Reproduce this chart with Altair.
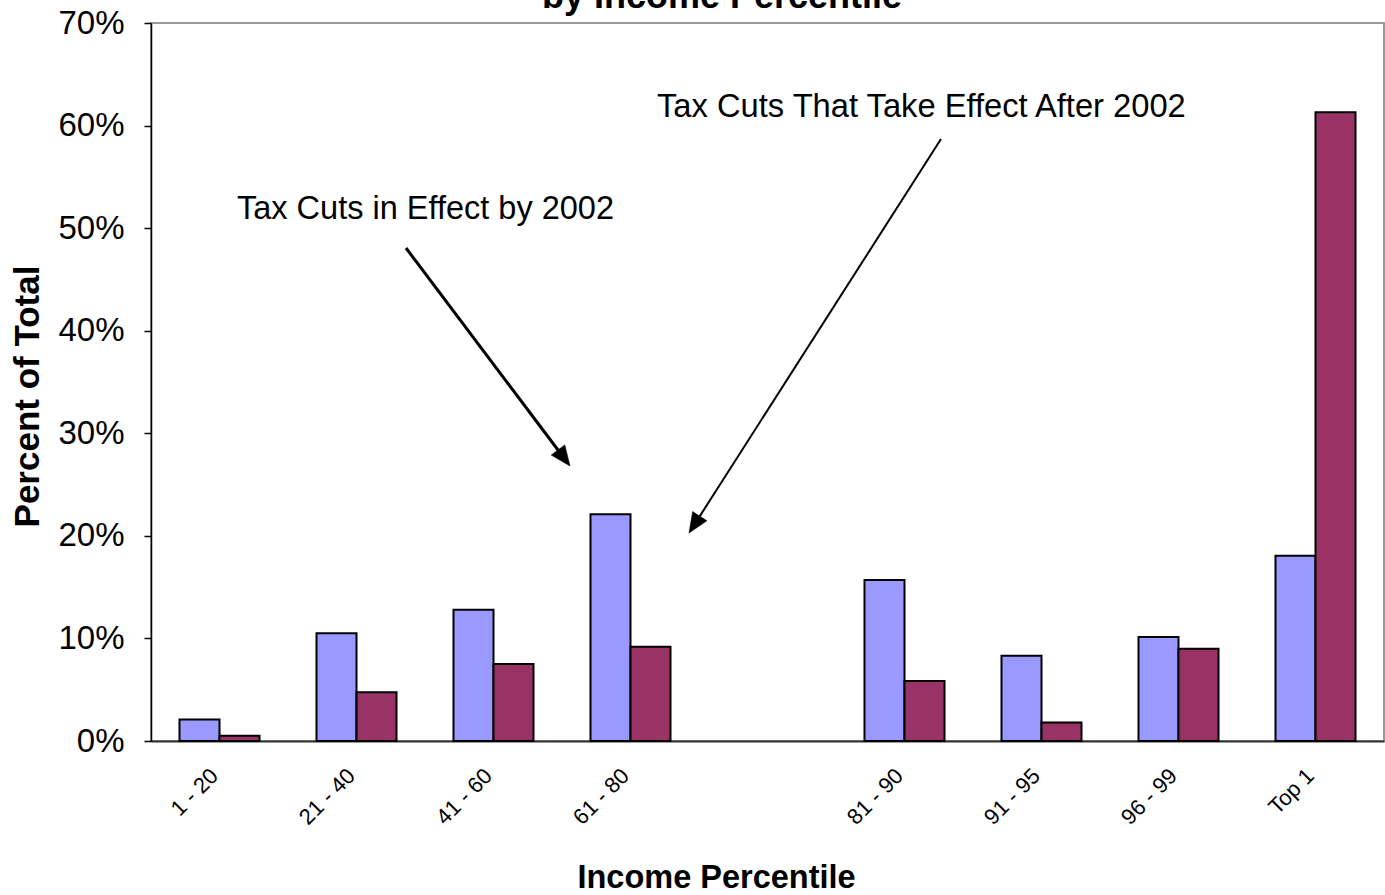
import altair as alt
import pandas as pd

# ---- data ----
categories = ["1 - 20", "21 - 40", "41 - 60", "61 - 80", "81 - 90", "91 - 95", "96 - 99", "Top 1"]
x_domain = ["1 - 20", "21 - 40", "41 - 60", "61 - 80", " ", "81 - 90", "91 - 95", "96 - 99", "Top 1"]
series_names = ["Tax Cuts in Effect by 2002", "Tax Cuts That Take Effect After 2002"]
in_effect_2002 = [2.1, 10.5, 12.8, 22.1, 15.7, 8.3, 10.15, 18.05]   # percent
after_2002 = [0.5, 4.75, 7.5, 9.2, 5.85, 1.8, 9.0, 61.3]            # percent
y_ticks = [0, 0.1, 0.2, 0.3, 0.4, 0.5, 0.6, 0.7]
colors = ["#9999FF", "#993366"]

FONT = "Liberation Sans"

rows = []
for c, a, b in zip(categories, in_effect_2002, after_2002):
    rows.append({"cat": c, "series": series_names[0], "value": a / 100})
    rows.append({"cat": c, "series": series_names[1], "value": b / 100})
df = pd.DataFrame(rows)

W, H = 1233, 718

bars = alt.Chart(df).mark_bar(stroke="black", strokeWidth=2).encode(
    x=alt.X(
        "cat:N",
        sort=x_domain,
        scale=alt.Scale(domain=x_domain, paddingInner=0.416, paddingOuter=0.208),
        axis=alt.Axis(
            title="Income Percentile",
            labelAngle=-45, labelAlign="right", labelBaseline="middle",
            labelFontSize=22, labelPadding=31, labelOffset=-5, labelColor="black", labelFont=FONT,
            ticks=False, tickSize=0,
            domainColor="#333333", domainWidth=2,
            titleFontSize=32.5, titleFontWeight="bold", titleFont=FONT, titleColor="black",
            titleX=565, titleY=146, titleBaseline="alphabetic", titleAlign="center",
        ),
    ),
    xOffset=alt.XOffset("series:N", sort=series_names,
                        scale=alt.Scale(domain=series_names, paddingInner=0, paddingOuter=0)),
    y=alt.Y(
        "value:Q",
        scale=alt.Scale(domain=[0, 0.7], nice=False),
        axis=alt.Axis(
            title="Percent of Total", values=y_ticks, format=".0%", grid=False,
            tickSize=7, tickColor="black", tickWidth=1.5,
            domainColor="black", domainWidth=1.5,
            labelFontSize=33, labelPadding=20, labelColor="black", labelFont=FONT,
            titleFontSize=35, titleFontWeight="bold", titleFont=FONT, titleColor="black",
            titleAngle=-90, titleX=-113, titleY=373, titleAlign="center", titleBaseline="alphabetic",
        ),
    ),
    color=alt.Color("series:N", scale=alt.Scale(domain=series_names, range=colors), legend=None),
)

one = pd.DataFrame({"k": [0]})

def arrow(x1, y1, xc, yc, width, angle):
    line = alt.Chart(one).mark_rule(color="black", strokeWidth=width).encode(
        x=alt.value(x1), y=alt.value(y1), x2=alt.value(xc), y2=alt.value(yc)
    )
    head = alt.Chart(one).mark_point(
        shape="M0,-1L-0.85,1L0.85,1Z", filled=True, fill="black", stroke="black",
        strokeWidth=0.5, size=400, angle=angle, opacity=1,
    ).encode(x=alt.value(xc), y=alt.value(yc))
    return line + head

arrow1 = arrow(255, 225, 413, 435, 3, 143.1)
arrow2 = arrow(790, 116, 543.4, 501.6, 2, 212.6)

def label(text, x, y, size, weight="normal", align="left"):
    return alt.Chart(one).mark_text(
        text=text, align=align, baseline="alphabetic", fontSize=size,
        fontWeight=weight, font=FONT, color="black",
    ).encode(x=alt.value(x), y=alt.value(y))

text1 = label(series_names[0], 86, 196, 32.5)
text2 = label(series_names[1], 506, 94, 32.7)
title = label("by Income Percentile", 571, -15, 36, weight="bold", align="center")

chart = alt.layer(bars, arrow1, arrow2, text1, text2, title).properties(
    width=W, height=H,
    autosize=alt.AutoSizeParams(type="none"),
    padding={"left": 151, "top": 23, "right": 1, "bottom": 154},
    background="white",
).configure(font=FONT).configure_view(stroke="#999999", strokeWidth=2)

chart.save("out.html", embed_options={"renderer": "svg", "actions": False})
